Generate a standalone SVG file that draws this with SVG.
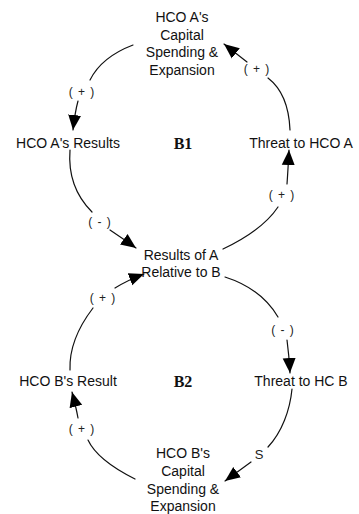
<svg xmlns="http://www.w3.org/2000/svg" width="359" height="514" viewBox="0 0 359 514">
<style>
.n{font-family:"Liberation Sans",Arial,sans-serif;font-size:14px;fill:#111;text-anchor:middle;dominant-baseline:central}
.p{font-family:"Liberation Sans",Arial,sans-serif;font-size:12px;fill:#222;text-anchor:middle;dominant-baseline:central;letter-spacing:1px}
.b{font-family:"Liberation Serif","Times New Roman",serif;font-size:16px;font-weight:bold;fill:#111;text-anchor:middle;dominant-baseline:central}
.c{fill:none;stroke:#111;stroke-width:1.2;stroke-linecap:round}
.a{marker-end:url(#ah)}
</style>
<defs>
<marker id="ah" markerUnits="userSpaceOnUse" markerWidth="16" markerHeight="16" viewBox="0 0 16 16" refX="15" refY="8" orient="auto">
<path d="M0,1.5 L15,8 L0,14.5 Z" fill="#000"/>
</marker>
</defs>
<rect width="359" height="514" fill="#fff"/>
<g id="connectors">
<path class="c" d="M133,45 C112,53 97,66 90,80"/>
<path class="c a" d="M78,101 Q75,112 73,130"/>
<text class="p" x="82" y="92">( + )</text>
<path class="c" d="M70,150 C68,176 76,196 92,212"/>
<path class="c a" d="M110,230 Q122,238 136,248"/>
<text class="p" x="100" y="222">( - )</text>
<path class="c" d="M223,249 C246,238 266,225 278,207"/>
<path class="c a" d="M287,184 Q288,170 289,150"/>
<text class="p" x="282" y="195">( + )</text>
<path class="c" d="M290,130 C289,105 281,88 268,78"/>
<path class="c a" d="M247,62 Q238,55 224,44"/>
<text class="p" x="257" y="69">( + )</text>
<path class="c" d="M225,277 C250,285 268,300 278,317"/>
<path class="c a" d="M287,340 Q289,355 290,373"/>
<text class="p" x="283" y="330">( - )</text>
<path class="c" d="M292,389 C290,410 282,432 268,447"/>
<path class="c a" d="M251,462 Q240,470 225,481"/>
<text class="p" x="259" y="454" style="letter-spacing:0;font-size:13px">S</text>
<path class="c" d="M135,479 C115,469 95,455 88,440"/>
<path class="c a" d="M78,418 Q76,407 72,392"/>
<text class="p" x="82" y="429">( + )</text>
<path class="c" d="M70,370 C69,345 80,325 93,308"/>
<path class="c a" d="M115,288 Q128,280 144,274"/>
<text class="p" x="103" y="298">( + )</text>
</g>
<g id="node-hco-a-capital">
<text class="n" x="182" y="17">HCO A's</text>
<text class="n" x="182" y="35">Capital</text>
<text class="n" x="182" y="52">Spending &amp;</text>
<text class="n" x="182" y="70">Expansion</text>
</g>
<g id="node-hco-a-results"><text class="n" x="68" y="143">HCO A's Results</text></g>
<g id="node-threat-a"><text class="n" x="301" y="143">Threat to HCO A</text></g>
<g id="label-b1"><text class="b" x="183" y="143">B1</text></g>
<g id="node-results-a-b">
<text class="n" x="181" y="255">Results of A</text>
<text class="n" x="181" y="272">Relative to B</text>
</g>
<g id="node-hco-b-result"><text class="n" x="68" y="381">HCO B's Result</text></g>
<g id="node-threat-b"><text class="n" x="301" y="381">Threat to HC B</text></g>
<g id="label-b2"><text class="b" x="183" y="381">B2</text></g>
<g id="node-hco-b-capital">
<text class="n" x="183" y="453">HCO B's</text>
<text class="n" x="183" y="471">Capital</text>
<text class="n" x="183" y="489">Spending &amp;</text>
<text class="n" x="183" y="506">Expansion</text>
</g>
</svg>
